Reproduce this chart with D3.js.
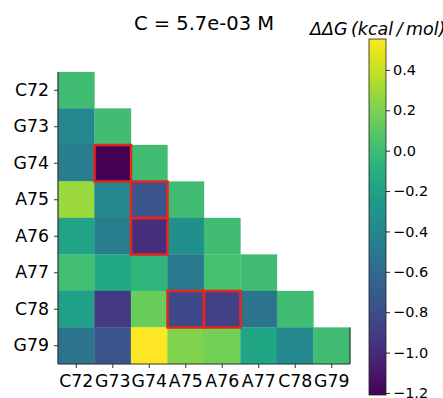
<!DOCTYPE html>
<html>
<head>
<meta charset="utf-8">
<script src="https://cdn.jsdelivr.net/npm/d3@7"></script>
<style>
  body { margin: 0; background: #fff; }
  svg { display: block; font-family: "DejaVu Sans", sans-serif; }
</style>
</head>
<body>
<svg id="chart" width="443" height="398"></svg>
<script>
// Nucleotides on both axes
const bases = ['C72', 'G73', 'G74', 'A75', 'A76', 'A77', 'C78', 'G79'];

// ddG values (kcal/mol), lower triangle, row by row (row i has i+1 entries)
const rowC72 = [0.01];
const rowG73 = [-0.40, 0.01];
const rowG74 = [-0.47, -1.21, 0.01];
const rowA75 = [0.29, -0.38, -0.75, 0.01];
const rowA76 = [-0.19, -0.47, -0.98, -0.33, 0.01];
const rowA77 = [0.02, -0.15, -0.06, -0.50, 0.03, 0.01];
const rowC78 = [-0.20, -0.91, 0.15, -0.82, -0.87, -0.54, 0.01];
const rowG79 = [-0.54, -0.75, 0.553, 0.22, 0.18, -0.17, -0.38, 0.01];
const rows = [rowC72, rowG73, rowG74, rowA75, rowA76, rowA77, rowC78, rowG79];

// Highlighted pairs [row, col]
const boxed = [['G74', 'G73'], ['A75', 'G74'], ['A76', 'G74'], ['C78', 'A75'], ['C78', 'A76']];

const cbTicks = [0.4, 0.2, 0.0, -0.2, -0.4, -0.6, -0.8, -1.0, -1.2];
const vmin = -1.21, vmax = 0.553;
const title = 'C = 5.7e-03 M';

const svg = d3.select('#chart');
const m = { left: 58, top: 72, right: 350, bottom: 364 };

const x = d3.scaleBand().domain(bases).range([m.left, m.right]);
const y = d3.scaleBand().domain(bases).range([m.top, m.bottom]);
const color = d3.scaleSequential(d3.interpolateViridis).domain([vmin, vmax]);

const cells = [];
rows.forEach((r, i) => r.forEach((v, j) => cells.push({ row: bases[i], col: bases[j], value: v })));

svg.append('g')
  .selectAll('rect')
  .data(cells)
  .join('rect')
  .attr('x', d => x(d.col))
  .attr('y', d => y(d.row))
  .attr('width', x.bandwidth())
  .attr('height', y.bandwidth())
  .attr('fill', d => color(d.value))
  .attr('stroke', d => color(d.value))
  .attr('stroke-width', 0.3);

// red boxes
svg.append('g')
  .selectAll('rect')
  .data(boxed)
  .join('rect')
  .attr('x', d => x(d[1]))
  .attr('y', d => y(d[0]))
  .attr('width', x.bandwidth())
  .attr('height', y.bandwidth())
  .attr('fill', 'none')
  .attr('stroke', '#e5261c')
  .attr('stroke-width', 2.5);

// axes
const xAxis = svg.append('g')
  .attr('transform', `translate(0,${m.bottom})`)
  .call(d3.axisBottom(x).tickSize(4).tickPadding(7));
const yAxis = svg.append('g')
  .attr('transform', `translate(${m.left},0)`)
  .call(d3.axisLeft(y).tickSize(4).tickPadding(5));

[xAxis, yAxis].forEach(a => {
  a.selectAll('text').style('font-size', '17.3px').style('font-family', 'DejaVu Sans').attr('fill', '#000');
  a.selectAll('line').attr('stroke', '#333');
  a.select('.domain').attr('stroke', '#333').attr('stroke-width', 1.2);
});
xAxis.select('.domain').attr('d', `M${m.left},0H${m.right}`);
yAxis.select('.domain').attr('d', `M0,${m.top}V${m.bottom}`);

// right spine segment along last row
svg.append('line')
  .attr('x1', m.right).attr('x2', m.right)
  .attr('y1', y('G79')).attr('y2', m.bottom)
  .attr('stroke', '#333').attr('stroke-width', 1.2);

svg.append('text')
  .attr('x', (m.left + m.right) / 2)
  .attr('y', 30)
  .attr('text-anchor', 'middle')
  .style('font-size', '19.5px')
  .text(title);

// colorbar
const cb = { x: 369, w: 17, top: 39, bottom: 395 };
const cy = d3.scaleLinear().domain([vmin, vmax]).range([cb.bottom, cb.top]);

const grad = svg.append('defs').append('linearGradient')
  .attr('id', 'cbgrad')
  .attr('x1', 0).attr('y1', 1).attr('x2', 0).attr('y2', 0);
d3.range(0, 1.0001, 0.05).forEach(t => {
  grad.append('stop').attr('offset', t).attr('stop-color', d3.interpolateViridis(t));
});

svg.append('rect')
  .attr('x', cb.x).attr('y', cb.top)
  .attr('width', cb.w).attr('height', cb.bottom - cb.top)
  .attr('fill', 'url(#cbgrad)')
  .attr('stroke', '#222').attr('stroke-width', 0.8);

const cbAxis = svg.append('g')
  .attr('transform', `translate(${cb.x + cb.w},0)`)
  .call(d3.axisRight(cy).tickValues(cbTicks).tickSize(4).tickPadding(3)
    .tickFormat(d => d3.format('.1f')(d).replace('-', '\u2212')));
cbAxis.select('.domain').remove();
cbAxis.selectAll('text').style('font-size', '14.5px').style('font-family', 'DejaVu Sans').attr('fill', '#000');
cbAxis.selectAll('line').attr('stroke', '#222');

// colorbar label, mathtext-like
const lab = svg.append('text')
  .attr('x', 310)
  .attr('y', 35)
  .style('font-size', '17.5px')
  .style('font-style', 'italic');
lab.append('tspan').text('\u0394\u0394G\u2009(kcal\u2009/\u2009mol)');
</script>
</body>
</html>
